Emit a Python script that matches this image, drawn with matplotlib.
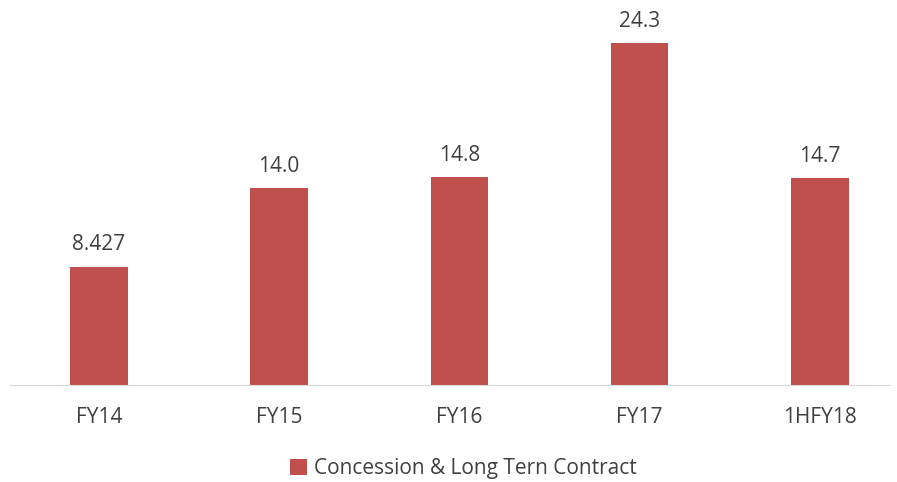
import matplotlib.pyplot as plt

categories = ["FY14", "FY15", "FY16", "FY17", "1HFY18"]
values = [8.427, 14.0, 14.8, 24.3, 14.7]
labels = ["8.427", "14.0", "14.8", "24.3", "14.7"]

plt.rcParams['font.family'] = ['Open Sans', 'DejaVu Sans']

fig = plt.figure(figsize=(8.97, 4.82), dpi=100)
ax = fig.add_axes([0.011, 0.201, 0.981, 0.788])

bars = ax.bar(categories, values, width=0.32, color="#C0504D",
              label="Concession & Long Tern Contract")
for b, t in zip(bars, labels):
    ax.annotate(t, (b.get_x() + b.get_width() / 2, b.get_height()),
                xytext=(0, 8), textcoords="offset points",
                ha="center", va="bottom", fontsize=15, color="#404040")

ax.set_ylim(0, 27)
ax.set_xlim(-0.494, 4.388)
ax.set_yticks([])
for s in ["top", "right", "left"]:
    ax.spines[s].set_visible(False)
ax.spines["bottom"].set_color("#D9D9D9")
ax.tick_params(axis="x", length=0, labelsize=15, colors="#404040", pad=16)

fig.legend(loc="center", bbox_to_anchor=(0.517, 0.027), frameon=False,
           fontsize=15, handlelength=0.8, handleheight=0.8,
           handletextpad=0.35, labelcolor="#404040")

fig.savefig("out.png", dpi=100)
